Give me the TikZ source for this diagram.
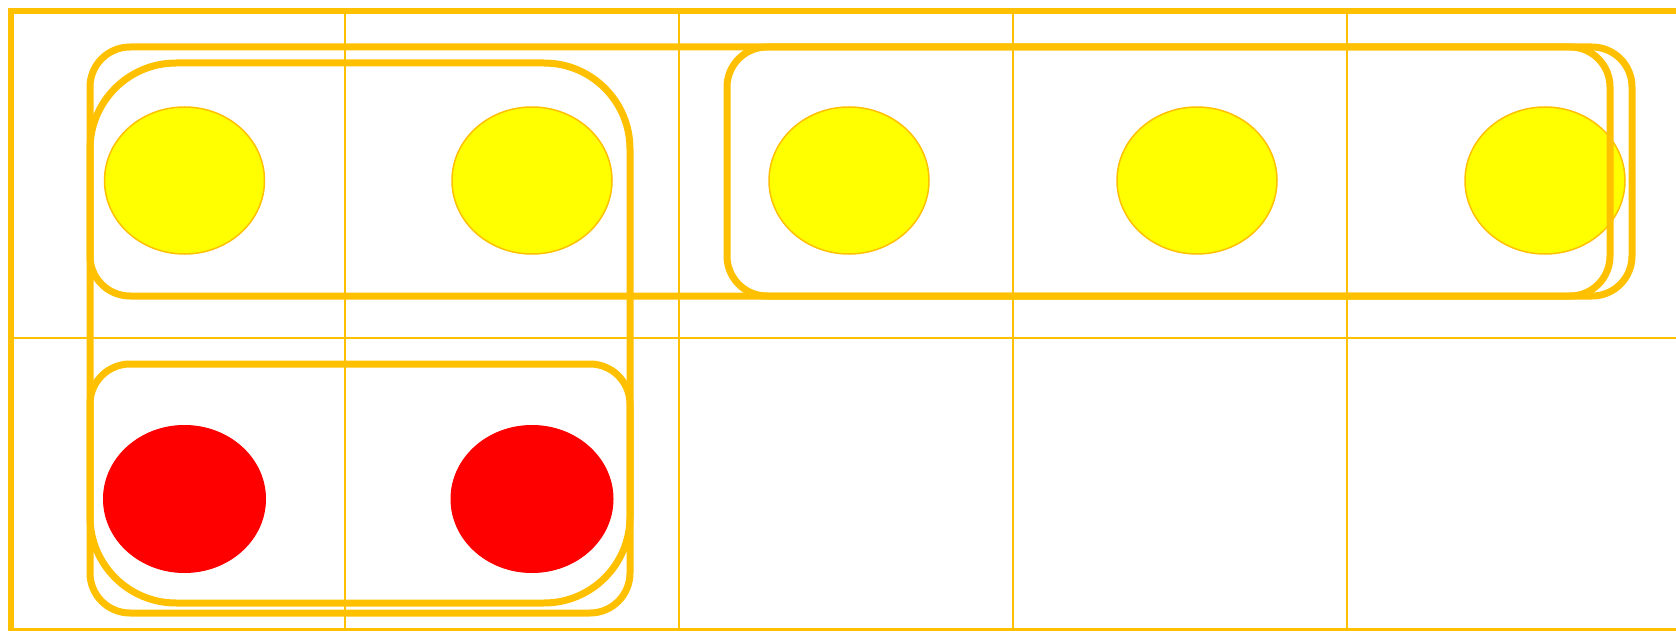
\documentclass[tikz,border=0pt]{standalone}
\usetikzlibrary{shapes.geometric}
\definecolor{amber}{RGB}{255,192,0}
\definecolor{ylw}{RGB}{255,255,0}
\definecolor{rd}{RGB}{255,0,0}
\tikzset{
  gridline/.style={draw=amber,line width=2.5pt},
  frameline/.style={draw=amber,line width=6pt},
  cluster/.style={draw=amber,line width=7pt},
  ydot/.style={ellipse,draw=amber,line width=1.5pt,fill=ylw,minimum width=160pt,minimum height=147pt,inner sep=0pt},
  rdot/.style={ellipse,draw=rd,line width=1pt,fill=rd,minimum width=162pt,minimum height=147pt,inner sep=0pt}
}
\begin{document}
\begin{tikzpicture}[x=1pt,y=-1pt]
\useasboundingbox (0,0) rectangle (1676,631);
\clip (0,0) rectangle (1676,631);
% grid
\foreach \gx in {345,679,1013,1347} \draw[gridline] (\gx,11) -- (\gx,631);
\draw[gridline] (11,338) -- (1681,338);
\draw[frameline] (11,11) rectangle (1681,631);
% dots
\node[ydot] (y1) at (184.5,180.5) {};
\node[ydot] (y2) at (532,180.5) {};
\node[ydot] (y3) at (849,180.5) {};
\node[ydot] (y4) at (1197,180.5) {};
\node[ydot] (y5) at (1545,180.5) {};
\node[rdot] (r1) at (184.5,499) {};
\node[rdot] (r2) at (532,499) {};
% clusters
\draw[cluster,rounded corners=40pt] (90,47) rectangle (1632,296);
\draw[cluster,rounded corners=40pt] (727,47) rectangle (1610,296);
\draw[cluster,rounded corners=86pt] (90,63) rectangle (630,603);
\draw[cluster,rounded corners=40pt] (90,364) rectangle (630,613);
\end{tikzpicture}
\end{document}
